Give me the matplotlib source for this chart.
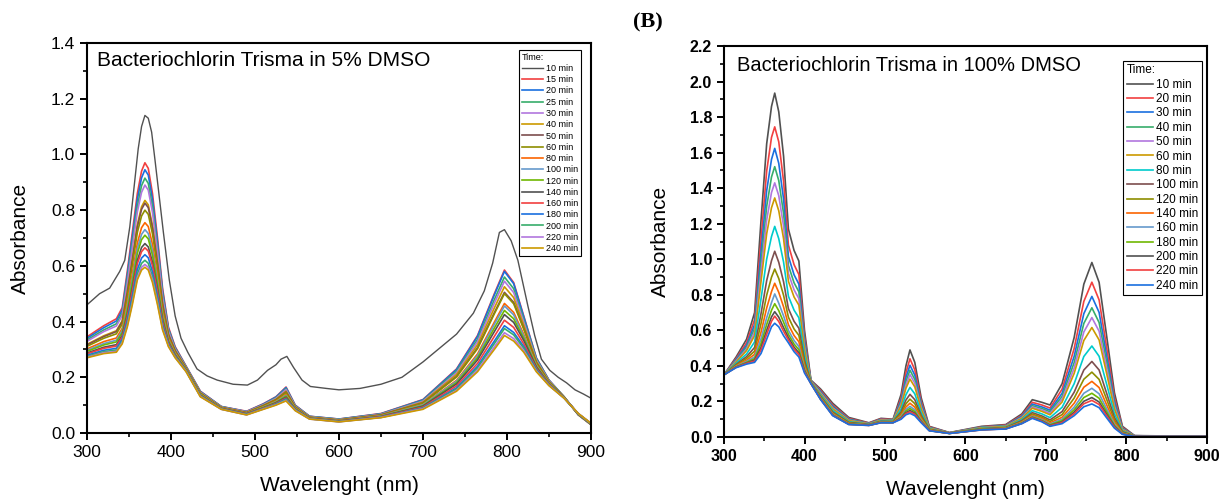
import matplotlib
matplotlib.use("Agg")
import matplotlib.pyplot as plt
from matplotlib.ticker import MultipleLocator

plt.rcParams['font.family'] = ['Liberation Sans', 'DejaVu Sans']

# ---------- panel A: 5% DMSO ----------
times_a = ["10 min", "15 min", "20 min", "25 min", "30 min", "40 min", "50 min", "60 min",
           "80 min", "100 min", "120 min", "140 min", "160 min", "180 min", "200 min",
           "220 min", "240 min"]

# 10 min curve read on its own wavelengths
wl_a_10 = [300, 315, 327, 339, 345, 351, 356, 361, 365, 369, 373, 377, 381, 386, 391, 398,
           405, 412, 420, 431, 443, 455, 474, 491, 503, 515, 525, 531, 538, 546, 556, 566,
           585, 600, 625, 650, 675, 700, 720, 740, 760, 773, 783, 791, 797, 805, 813, 825,
           833, 841, 851, 861, 871, 881, 891, 900]
abs_a_10 = [0.46, 0.50, 0.52, 0.58, 0.62, 0.74, 0.88, 1.02, 1.10, 1.14, 1.13, 1.08, 0.98,
            0.85, 0.72, 0.55, 0.42, 0.34, 0.29, 0.23, 0.205, 0.19, 0.175, 0.172, 0.19, 0.225,
            0.245, 0.265, 0.275, 0.235, 0.19, 0.167, 0.16, 0.155, 0.16, 0.175, 0.20, 0.255,
            0.305, 0.355, 0.43, 0.51, 0.61, 0.72, 0.73, 0.69, 0.62, 0.455, 0.35, 0.265, 0.225,
            0.20, 0.18, 0.155, 0.14, 0.125]

# other curves (15 .. 240 min)
wl_a = [300, 320, 335, 342, 348, 354, 360, 365, 369, 373, 378, 384, 390, 397, 405, 418, 435,
        460, 490, 510, 525, 537, 548, 565, 600, 650, 700, 740, 765, 785, 797, 808, 820, 835,
        850, 868, 885, 900]
abs_a = [
    [.345, .385, .41, .45, .58, .72, .86, .94, .97, .95, .86, .70, .52, .38, .31, .24, .15, .095, .078, .105, .13, .165, .10, .06, .05, .07, .12, .23, .35, .50, .585, .54, .42, .27, .19, .13, .065, .03],
    [.34, .378, .402, .441, .567, .703, .839, .916, .945, .926, .839, .684, .51, .375, .307, .239, .149, .095, .077, .104, .129, .163, .099, .06, .05, .069, .119, .228, .347, .496, .58, .536, .417, .269, .19, .13, .065, .03],
    [.334, .37, .392, .431, .551, .682, .814, .888, .915, .896, .813, .665, .498, .37, .304, .237, .147, .094, .076, .102, .126, .159, .097, .059, .049, .068, .116, .222, .336, .479, .56, .518, .406, .265, .188, .13, .066, .031],
    [.329, .364, .384, .422, .537, .665, .794, .864, .89, .872, .792, .649, .488, .365, .301, .236, .146, .093, .076, .101, .124, .156, .096, .058, .048, .067, .114, .216, .328, .466, .545, .504, .398, .261, .187, .129, .066, .031],
    [.318, .349, .367, .403, .508, .626, .748, .812, .835, .819, .745, .614, .466, .355, .296, .234, .144, .092, .074, .099, .121, .15, .094, .057, .047, .065, .111, .21, .317, .449, .525, .486, .387, .257, .185, .129, .066, .031],
    [.316, .346, .364, .40, .503, .619, .74, .803, .825, .809, .736, .607, .462, .353, .295, .233, .143, .091, .073, .098, .119, .147, .093, .056, .046, .065, .108, .203, .306, .432, .505, .469, .376, .253, .183, .128, .067, .032],
    [.311, .34, .356, .391, .489, .602, .72, .779, .80, .785, .715, .591, .452, .348, .292, .232, .142, .091, .073, .097, .118, .145, .092, .056, .046, .064, .107, .201, .303, .428, .50, .464, .373, .252, .183, .128, .067, .032],
    [.302, .328, .341, .376, .465, .571, .682, .737, .755, .741, .677, .562, .434, .34, .287, .229, .139, .09, .071, .094, .114, .138, .089, .055, .045, .062, .102, .189, .284, .398, .465, .433, .354, .244, .18, .127, .068, .033],
    [.297, .321, .333, .367, .452, .554, .662, .713, .73, .716, .655, .546, .424, .335, .284, .228, .138, .089, .07, .093, .112, .135, .088, .054, .044, .061, .101, .186, .278, .39, .456, .424, .348, .242, .179, .127, .068, .033],
    [.293, .316, .327, .36, .441, .54, .645, .694, .71, .697, .638, .534, .416, .331, .282, .227, .137, .088, .069, .092, .11, .132, .087, .053, .043, .06, .098, .181, .27, .377, .44, .41, .34, .239, .178, .127, .068, .033],
    [.287, .308, .317, .35, .425, .519, .62, .666, .68, .668, .613, .514, .404, .326, .279, .225, .135, .088, .069, .09, .108, .128, .085, .053, .043, .059, .096, .176, .262, .364, .425, .397, .332, .236, .176, .127, .068, .033],
    [.284, .304, .312, .344, .417, .509, .608, .651, .665, .653, .60, .505, .398, .323, .277, .224, .134, .087, .068, .089, .106, .125, .084, .052, .042, .058, .093, .169, .25, .347, .405, .379, .32, .232, .175, .126, .069, .034],
    [.279, .297, .304, .336, .404, .491, .587, .628, .64, .629, .578, .489, .388, .318, .275, .223, .133, .086, .067, .087, .104, .122, .083, .051, .041, .057, .09, .162, .24, .33, .385, .361, .31, .228, .173, .126, .069, .034],
    [.275, .292, .298, .329, .393, .477, .571, .609, .62, .609, .561, .476, .38, .315, .273, .222, .132, .086, .066, .087, .103, .12, .082, .051, .041, .056, .089, .158, .234, .321, .375, .352, .304, .225, .172, .125, .069, .034],
    [.272, .288, .293, .324, .385, .467, .558, .595, .605, .595, .549, .466, .374, .312, .271, .221, .131, .085, .065, .086, .101, .117, .081, .05, .04, .056, .087, .153, .226, .309, .36, .339, .296, .222, .171, .125, .07, .035],
    [.27, .285, .29, .32, .38, .46, .55, .585, .595, .585, .54, .46, .37, .31, .27, .22, .13, .085, .065, .085, .10, .115, .08, .05, .04, .055, .085, .15, .22, .30, .35, .33, .29, .22, .17, .125, .07, .035],
]

# ---------- panel B: 100% DMSO ----------
times_b = ["10 min", "20 min", "30 min", "40 min", "50 min", "60 min", "80 min", "100 min",
           "120 min", "140 min", "160 min", "180 min", "200 min", "220 min", "240 min"]
wl_b = [300, 315, 328, 338, 346, 353, 359, 363, 368, 374, 380, 387, 393, 400, 408, 420, 435,
        455, 480, 495, 510, 520, 526, 531, 537, 545, 555, 580, 620, 650, 670, 683, 695, 705,
        720, 735, 747, 757, 766, 775, 785, 795, 810, 900]
abs_b = [
    [.35, .45, .55, .70, 1.22, 1.65, 1.86, 1.935, 1.83, 1.58, 1.17, 1.05, .99, .60, .32, .27, .19, .11, .08, .105, .10, .24, .40, .49, .42, .22, .06, .025, .06, .07, .13, .21, .195, .18, .30, .56, .86, .982, .87, .58, .25, .06, .008, .003],
    [.35, .442, .53, .661, 1.115, 1.496, 1.686, 1.745, 1.661, 1.439, 1.08, .97, .914, .566, .317, .262, .18, .104, .078, .102, .097, .22, .362, .44, .378, .20, .057, .024, .057, .067, .122, .195, .18, .163, .269, .498, .763, .871, .771, .514, .222, .054, .007, .003],
    [.35, .436, .516, .633, 1.04, 1.386, 1.562, 1.624, 1.54, 1.338, 1.016, .913, .86, .542, .315, .256, .173, .10, .076, .099, .095, .206, .334, .404, .348, .186, .054, .024, .055, .064, .117, .185, .169, .151, .246, .454, .694, .791, .701, .467, .202, .049, .007, .003],
    [.35, .431, .505, .61, .98, 1.298, 1.463, 1.521, 1.443, 1.257, .965, .868, .817, .523, .314, .251, .168, .097, .075, .097, .094, .195, .312, .376, .324, .175, .052, .023, .054, .062, .112, .176, .16, .142, .228, .419, .639, .727, .644, .43, .186, .046, .006, .003],
    [.35, .427, .495, .591, .928, 1.221, 1.376, 1.43, 1.358, 1.186, .92, .828, .779, .506, .312, .247, .163, .094, .074, .095, .092, .185, .293, .351, .303, .165, .05, .023, .052, .06, .109, .169, .152, .133, .212, .388, .591, .672, .595, .397, .172, .042, .006, .003],
    [.35, .422, .486, .571, .875, 1.144, 1.29, 1.345, 1.273, 1.115, .876, .788, .742, .49, .311, .242, .158, .092, .073, .094, .091, .176, .274, .326, .282, .156, .049, .023, .051, .059, .105, .162, .144, .125, .197, .358, .543, .616, .546, .364, .158, .039, .006, .003],
    [.35, .415, .467, .535, .778, 1.001, 1.128, 1.185, 1.116, .984, .792, .714, .671, .458, .308, .235, .149, .086, .071, .09, .088, .157, .238, .279, .243, .137, .045, .022, .048, .055, .098, .148, .13, .109, .167, .30, .453, .512, .454, .303, .132, .033, .005, .003],
    [.35, .408, .452, .504, .695, .88, .992, 1.045, .983, .873, .722, .651, .612, .432, .306, .228, .141, .082, .07, .088, .086, .142, .208, .24, .21, .122, .043, .022, .046, .053, .092, .137, .118, .096, .143, .252, .377, .425, .377, .251, .11, .029, .005, .003],
    [.35, .404, .442, .483, .639, .798, .899, .945, .892, .797, .674, .608, .572, .414, .305, .224, .136, .079, .068, .086, .085, .132, .187, .213, .188, .112, .041, .021, .045, .051, .087, .129, .11, .087, .126, .219, .325, .365, .324, .216, .095, .025, .004, .003],
    [.35, .40, .432, .465, .59, .726, .818, .865, .814, .732, .632, .571, .536, .398, .303, .22, .131, .076, .067, .084, .083, .122, .169, .19, .168, .102, .039, .021, .043, .049, .084, .122, .103, .079, .111, .19, .28, .313, .278, .185, .082, .022, .004, .003],
    [.35, .397, .425, .451, .553, .671, .756, .805, .753, .681, .60, .543, .509, .386, .302, .217, .128, .074, .067, .083, .082, .115, .155, .172, .153, .095, .038, .02, .042, .048, .081, .117, .097, .073, .10, .168, .246, .274, .243, .162, .072, .02, .004, .003],
    [.35, .395, .42, .441, .526, .633, .713, .75, .711, .646, .578, .523, .491, .378, .302, .215, .125, .073, .066, .082, .082, .11, .146, .16, .143, .09, .037, .02, .042, .047, .079, .113, .093, .069, .092, .153, .222, .246, .218, .145, .065, .018, .003, .003],
    [.35, .393, .416, .433, .504, .60, .676, .705, .674, .615, .559, .506, .474, .371, .301, .213, .123, .072, .066, .081, .081, .106, .137, .149, .134, .086, .036, .02, .041, .046, .077, .11, .09, .065, .085, .14, .201, .222, .197, .131, .059, .017, .003, .003],
    [.35, .392, .414, .427, .489, .578, .651, .68, .65, .595, .546, .494, .464, .366, .30, .212, .122, .071, .065, .081, .081, .104, .132, .142, .128, .084, .036, .02, .04, .046, .076, .108, .088, .063, .081, .131, .187, .206, .183, .122, .055, .016, .003, .003],
    [.35, .39, .41, .42, .47, .55, .62, .64, .62, .57, .53, .48, .45, .36, .30, .21, .12, .07, .065, .08, .08, .10, .125, .133, .12, .08, .035, .02, .04, .045, .075, .105, .085, .06, .075, .12, .17, .186, .165, .11, .05, .015, .003, .003],
]

gray = '#515151'
red = '#F14040'
blue = '#1A6FDF'
green = '#37AD6B'
purple = '#B177DE'
gold = '#CC9900'
cyan = '#00CBCC'
brown = '#7D4E4E'
olive = '#8E8E00'
orange = '#FB6501'
lblue = '#6699CC'
lime = '#6FB802'

colors_a = [gray, red, blue, green, purple, gold, brown, olive, orange, lblue, lime,
            gray, red, blue, green, purple, gold]
colors_b = [gray, red, blue, green, purple, gold, cyan, brown, olive, orange, lblue, lime,
            gray, red, blue]

fig = plt.figure(figsize=(12.23, 5.0), dpi=100)
ax1 = fig.add_axes([0.0711, 0.134, 0.4121, 0.78])
ax2 = fig.add_axes([0.592, 0.126, 0.3949, 0.782])

ax1.plot(wl_a_10, abs_a_10, color=colors_a[0], lw=1.0, label=times_a[0])
for i in range(len(abs_a)):
    ax1.plot(wl_a, abs_a[i], color=colors_a[i + 1], lw=1.2, label=times_a[i + 1])

for i in range(len(abs_b)):
    ax2.plot(wl_b, abs_b[i], color=colors_b[i], lw=1.2, label=times_b[i])


def style(ax, ymax):
    ax.set_xlim(300, 900)
    ax.set_ylim(0, ymax)
    ax.xaxis.set_major_locator(MultipleLocator(100))
    ax.xaxis.set_minor_locator(MultipleLocator(50))
    ax.yaxis.set_major_locator(MultipleLocator(0.2))
    ax.yaxis.set_minor_locator(MultipleLocator(0.1))
    for s in ax.spines.values():
        s.set_linewidth(1.5)
    ax.tick_params(which='major', direction='out', length=5, width=1.4, top=False, right=False)
    ax.tick_params(which='minor', direction='out', length=3, width=1.2, top=False, right=False)


style(ax1, 1.4)
style(ax2, 2.2)

ax1.tick_params(labelsize=12.5)
ax2.tick_params(labelsize=11.5)
for t in ax2.xaxis.get_major_ticks() + ax2.yaxis.get_major_ticks():
    t.label1.set_fontweight('bold')

ax1.set_xlabel("Wavelenght (nm)", fontsize=15)
ax1.set_ylabel("Absorbance", fontsize=15)
ax2.set_xlabel("Wavelenght (nm)", fontsize=15)
ax2.set_ylabel("Absorbance", fontsize=15)
ax1.xaxis.set_label_coords(0.5, -0.11)
ax1.yaxis.set_label_coords(-0.113, 0.5)
ax2.xaxis.set_label_coords(0.5, -0.11)
ax2.yaxis.set_label_coords(-0.112, 0.5)

ax1.text(0.02, 0.956, "Bacteriochlorin Trisma in 5% DMSO", transform=ax1.transAxes,
         fontsize=15, va='center', ha='left')
ax2.text(0.027, 0.951, "Bacteriochlorin Trisma in 100% DMSO", transform=ax2.transAxes,
         fontsize=14.5, va='center', ha='left')

leg1 = ax1.legend(title="Time:", loc='upper right', bbox_to_anchor=(0.98, 0.982),
                  fontsize=6.5, title_fontsize=6.5, frameon=True, fancybox=False,
                  edgecolor='black', framealpha=1, handlelength=2.4, handletextpad=0.3,
                  labelspacing=0.25, borderpad=0.3, borderaxespad=0, alignment='left')
leg1.get_frame().set_linewidth(0.8)
leg2 = ax2.legend(title="Time:", loc='upper right', bbox_to_anchor=(0.99, 0.962),
                  fontsize=8.5, title_fontsize=8.5, frameon=True, fancybox=False,
                  edgecolor='black', framealpha=1, handlelength=2.2, handletextpad=0.3,
                  labelspacing=0.2, borderpad=0.3, borderaxespad=0, alignment='left')
leg2.get_frame().set_linewidth(0.8)

fig.text(633 / 1223, 1 - 22 / 500, "(B)", fontsize=16, fontweight='bold',
         family=['Liberation Serif', 'DejaVu Serif'], va='center', ha='left')

fig.savefig("out.png", dpi=100)
